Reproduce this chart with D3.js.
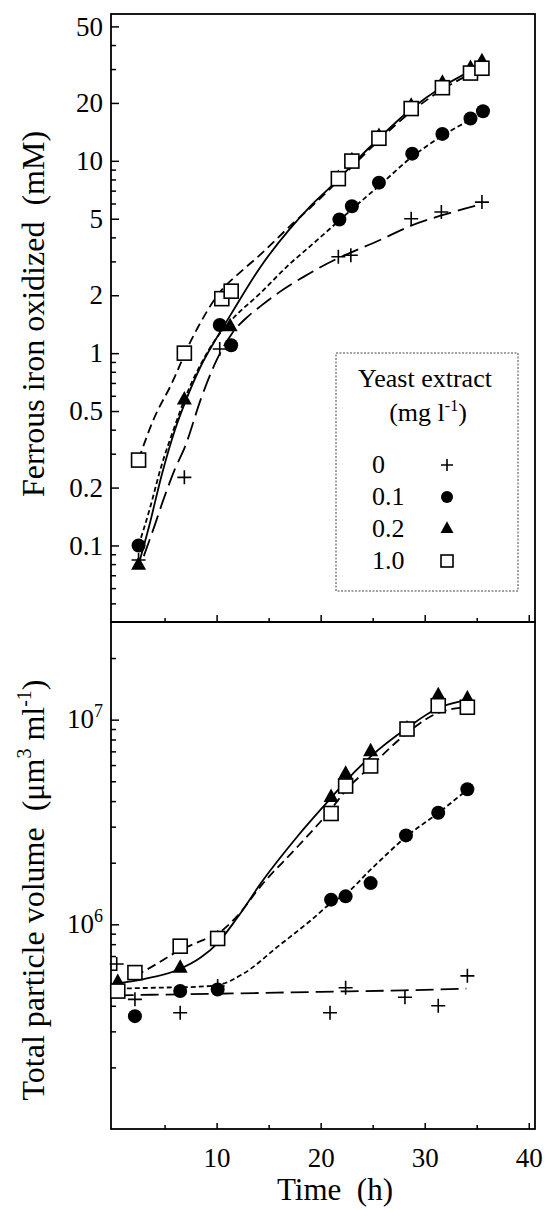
<!DOCTYPE html>
<html>
<head>
<meta charset="utf-8">
<script src="https://cdn.jsdelivr.net/npm/d3@7"></script>
<style>
body { margin: 0; background: #fff; }
text { font-family: "Liberation Serif", "Times New Roman", serif; fill: #000; }
</style>
</head>
<body>
<script>
// ---- data: ferrous iron oxidized (mM), by yeast extract level ----
var levels = ['0', '0.1', '0.2', '1.0'];

var feT_0 = [2.5, 6.9, 10.3, 21.7, 22.9, 28.7, 31.6, 35.5];
var feV_0 = [0.084, 0.226, 1.05, 3.17, 3.23, 5.0, 5.42, 6.1];
var feT_01 = [2.5, 10.3, 11.4, 21.8, 23.0, 25.6, 28.8, 31.7, 34.4, 35.6];
var feV_01 = [0.10, 1.4, 1.1, 4.95, 5.8, 7.7, 10.9, 13.8, 16.6, 18.1];
var feT_02 = [2.5, 6.9, 11.3, 21.7, 23.0, 25.6, 28.7, 31.7, 34.4, 35.5];
var feV_02 = [0.079, 0.57, 1.37, 8.1, 10.0, 13.4, 19.2, 25.3, 30.2, 32.7];
var feT_10 = [2.5, 6.9, 10.5, 11.4, 21.7, 23.0, 25.6, 28.7, 31.7, 34.4, 35.5];
var feV_10 = [0.278, 1.0, 1.92, 2.1, 8.08, 9.97, 13.1, 18.7, 24.0, 28.6, 30.3];

// fitted curves
var fitFeT_0 = [3.0, 4.0, 5.0, 6.0, 7.0, 8.5, 10.0, 11.5, 13.0, 14.2, 16.0, 18.4, 21.7, 23.0, 25.6, 28.7, 31.6, 35.5];
var fitFeV_0 = [0.088, 0.125, 0.18, 0.25, 0.33, 0.58, 0.92, 1.27, 1.55, 1.75, 2.07, 2.5, 3.12, 3.35, 3.85, 4.6, 5.2, 5.95];
var fitFeT_01 = [2.5, 3.5, 4.7, 6.0, 7.0, 8.5, 10.0, 11.4, 14.2, 17.0, 19.0, 21.7, 23.0, 25.6, 28.7, 31.7, 34.4, 35.6];
var fitFeV_01 = [0.10, 0.15, 0.26, 0.42, 0.59, 0.88, 1.2, 1.48, 2.05, 2.9, 3.6, 4.85, 5.6, 7.4, 10.4, 13.5, 16.4, 17.9];
var fitFeT_02 = [2.6, 3.5, 4.7, 6.0, 7.0, 8.5, 10.0, 11.4, 14.2, 17.0, 19.0, 21.7, 23.0, 25.6, 28.7, 31.7, 34.4, 35.5];
var fitFeV_02 = [0.083, 0.125, 0.23, 0.40, 0.56, 0.86, 1.2, 1.6, 2.8, 4.4, 5.8, 8.0, 9.5, 13.1, 18.6, 24.3, 29.3, 31.4];
var fitFeT_10 = [2.5, 4.0, 5.6, 7.5, 10.4, 12.5, 14.2, 17.0, 19.0, 21.7, 23.0, 25.6, 28.7, 31.7, 34.4, 35.5];
var fitFeV_10 = [0.28, 0.46, 0.68, 1.15, 2.1, 2.7, 3.25, 4.55, 5.7, 7.9, 9.3, 12.8, 18.0, 23.5, 28.3, 30.3];

// ---- data: total particle volume (um3 ml-1) ----
var pvT_0 = [0.4, 2.15, 6.5, 10.1, 20.9, 22.4, 28.1, 31.3, 34.1];
var pvV_0 = [6.4e5, 4.3e5, 3.7e5, 5.0e5, 3.7e5, 4.9e5, 4.4e5, 4.0e5, 5.6e5];
var pvT_01 = [2.15, 6.5, 10.1, 21.0, 22.4, 24.8, 28.2, 31.3, 34.1];
var pvV_01 = [3.56e5, 4.72e5, 4.8e5, 1.32e6, 1.37e6, 1.59e6, 2.72e6, 3.51e6, 4.57e6];
var pvT_02 = [0.5, 6.5, 10.1, 21.0, 22.4, 24.8, 28.3, 31.3, 34.1];
var pvV_02 = [5.2e5, 6.1e5, 8.5e5, 4.16e6, 5.41e6, 6.97e6, 9.0e6, 1.31e7, 1.26e7];
var pvT_10 = [0.5, 2.15, 6.5, 10.1, 21.0, 22.4, 24.8, 28.3, 31.3, 34.1];
var pvV_10 = [4.72e5, 5.81e5, 7.82e5, 8.53e5, 3.48e6, 4.74e6, 5.94e6, 9.0e6, 1.17e7, 1.15e7];

var fitPvT_0 = [0.3, 10.0, 20.0, 28.0, 34.0];
var fitPvV_0 = [4.5e5, 4.58e5, 4.68e5, 4.76e5, 4.85e5];
var fitPvT_01 = [0.6, 4.0, 8.0, 10.1, 12.6, 15.9, 19.1, 21.0, 22.5, 24.8, 28.3, 31.3, 34.1];
var fitPvV_01 = [4.85e5, 4.9e5, 4.95e5, 5.05e5, 5.75e5, 7.8e5, 1.05e6, 1.27e6, 1.42e6, 1.85e6, 2.7e6, 3.5e6, 4.55e6];
var fitPvT_02 = [0.5, 3.0, 6.3, 8.5, 10.1, 12.0, 14.3, 17.8, 21.0, 22.4, 24.8, 28.3, 31.3, 34.1];
var fitPvV_02 = [5.15e5, 5.4e5, 6.0e5, 6.9e5, 8.1e5, 1.08e6, 1.6e6, 2.7e6, 4.15e6, 5.0e6, 6.6e6, 9.1e6, 1.14e7, 1.25e7];
var fitPvT_10 = [2.2, 4.0, 6.3, 8.5, 10.1, 12.0, 14.3, 17.8, 21.0, 22.4, 24.8, 28.3, 31.3, 34.1];
var fitPvV_10 = [5.6e5, 6.3e5, 7.4e5, 8.3e5, 9.0e5, 1.1e6, 1.55e6, 2.4e6, 3.65e6, 4.5e6, 5.9e6, 8.6e6, 1.08e7, 1.15e7];

// ---- ticks ----
var xMajor = [10, 20, 30, 40];
var xMinor = [5, 15, 25, 35];
var feMajor = [0.1, 0.2, 0.5, 1, 2, 5, 10, 20, 50];
var feMinor = [0.05, 0.06, 0.07, 0.08, 0.09, 0.3, 0.4, 0.6, 0.7, 0.8, 0.9, 3, 4, 6, 7, 8, 9, 30, 40];
var pvMajor = [1e6, 1e7];
var pvMinor = [2e5, 3e5, 4e5, 5e5, 6e5, 7e5, 8e5, 9e5, 2e6, 3e6, 4e6, 5e6, 6e6, 7e6, 8e6, 9e6, 2e7];

var width = 549;
var height = 1210;
var svg = d3.select('body').append('svg')
            .attr('width', width)
            .attr('height', height);

var left = 111, right = 535, top1 = 14, mid = 622, bottom = 1129;

var x = d3.scaleLinear().domain([-0.15, 40.6]).range([left, right]);
var yTop = d3.scaleLog().domain([0.04, 58]).range([mid, top1]);
var yBot = d3.scaleLog().domain([1e5, 3e7]).range([bottom, mid]);

var dashes = { '0': '18,7', '0.1': '5,3', '0.2': null, '1.0': '9,5' };

function styleAxis(g) {
  g.select('.domain').remove();
  g.selectAll('.tick line').attr('stroke', '#000').attr('stroke-width', 1.5);
  g.selectAll('text').attr('font-family', '"Liberation Serif", serif')
   .attr('font-size', 27).attr('fill', '#000');
}

// ---- axes: top panel ----
svg.append('g').attr('transform', 'translate(' + left + ',0)')
   .call(d3.axisLeft(yTop).tickValues(feMajor).tickFormat(function (d) { return String(d); })
         .tickSize(-8).tickPadding(8))
   .call(styleAxis);
svg.append('g').attr('transform', 'translate(' + left + ',0)')
   .call(d3.axisLeft(yTop).tickValues(feMinor).tickFormat('').tickSize(-5))
   .call(styleAxis);
svg.append('g').attr('transform', 'translate(0,' + mid + ')')
   .call(d3.axisBottom(x).tickValues(xMajor).tickFormat('').tickSize(-7))
   .call(styleAxis);
svg.append('g').attr('transform', 'translate(0,' + mid + ')')
   .call(d3.axisBottom(x).tickValues(xMinor).tickFormat('').tickSize(-4))
   .call(styleAxis);

// ---- axes: bottom panel ----
var pvAxis = svg.append('g').attr('transform', 'translate(' + left + ',0)')
   .call(d3.axisLeft(yBot).tickValues(pvMajor).tickFormat('').tickSize(-8).tickPadding(8))
   .call(styleAxis);
pvAxis.selectAll('.tick').each(function (d) {
  var t = d3.select(this).select('text').attr('dy', null).attr('y', 8);
  t.append('tspan').text('10');
  t.append('tspan').attr('font-size', 18).attr('dy', -11).text(Math.round(Math.log10(d)));
});
svg.append('g').attr('transform', 'translate(' + left + ',0)')
   .call(d3.axisLeft(yBot).tickValues(pvMinor).tickFormat('').tickSize(-5))
   .call(styleAxis);
svg.append('g').attr('transform', 'translate(0,' + bottom + ')')
   .call(d3.axisBottom(x).tickValues(xMajor).tickSize(-6).tickPadding(19))
   .call(styleAxis);
svg.append('g').attr('transform', 'translate(0,' + bottom + ')')
   .call(d3.axisBottom(x).tickValues(xMinor).tickFormat('').tickSize(-4))
   .call(styleAxis);

// frames
[[top1, mid], [mid, bottom]].forEach(function (p) {
  svg.append('rect').attr('x', left).attr('y', p[0])
     .attr('width', right - left).attr('height', p[1] - p[0])
     .attr('fill', 'none').attr('stroke', '#000').attr('stroke-width', 1.8);
});

// ---- curves ----
function drawFit(y, ts, vs, key) {
  var line = d3.line()
               .x(function (d) { return x(d[0]); })
               .y(function (d) { return y(d[1]); })
               .curve(d3.curveMonotoneX);
  svg.append('path').datum(d3.zip(ts, vs))
     .attr('d', line)
     .attr('fill', 'none')
     .attr('stroke', '#000')
     .attr('stroke-width', 1.8)
     .attr('stroke-dasharray', dashes[key]);
}
drawFit(yTop, fitFeT_0, fitFeV_0, '0');
drawFit(yTop, fitFeT_01, fitFeV_01, '0.1');
drawFit(yTop, fitFeT_02, fitFeV_02, '0.2');
drawFit(yTop, fitFeT_10, fitFeV_10, '1.0');
drawFit(yBot, fitPvT_0, fitPvV_0, '0');
drawFit(yBot, fitPvT_01, fitPvV_01, '0.1');
drawFit(yBot, fitPvT_02, fitPvV_02, '0.2');
drawFit(yBot, fitPvT_10, fitPvV_10, '1.0');

// ---- markers ----
function marker(g, key, s) {
  if (key === '0') {
    g.append('path').attr('d', 'M' + (-s) + ',0H' + s + 'M0,' + (-s) + 'V' + s)
     .attr('stroke', '#000').attr('stroke-width', 1.6).attr('fill', 'none');
  } else if (key === '0.1') {
    g.append('circle').attr('r', s).attr('fill', '#000');
  } else if (key === '0.2') {
    var h = s * 1.8;
    g.append('path')
     .attr('d', 'M0,' + (-h * 2 / 3) + 'L' + s + ',' + (h / 3) + 'L' + (-s) + ',' + (h / 3) + 'Z')
     .attr('fill', '#000');
  } else {
    g.append('rect').attr('x', -s).attr('y', -s).attr('width', 2 * s).attr('height', 2 * s)
     .attr('fill', '#fff').attr('stroke', '#000').attr('stroke-width', 1.6);
  }
}
function drawPoints(y, ts, vs, key, s) {
  svg.append('g').selectAll('g')
     .data(d3.zip(ts, vs))
     .enter()
     .append('g')
     .attr('transform', function (d) { return 'translate(' + x(d[0]) + ',' + y(d[1]) + ')'; })
     .each(function () { marker(d3.select(this), key, s); });
}
drawPoints(yTop, feT_0, feV_0, '0', 7);
drawPoints(yTop, feT_01, feV_01, '0.1', 7);
drawPoints(yTop, feT_02, feV_02, '0.2', 7.5);
drawPoints(yTop, feT_10, feV_10, '1.0', 7);
drawPoints(yBot, pvT_0, pvV_0, '0', 7);
drawPoints(yBot, pvT_01, pvV_01, '0.1', 7);
drawPoints(yBot, pvT_02, pvV_02, '0.2', 7.5);
drawPoints(yBot, pvT_10, pvV_10, '1.0', 7);

// ---- axis titles ----
svg.append('text')
   .attr('transform', 'translate(44,314) rotate(-90)')
   .attr('text-anchor', 'middle')
   .attr('font-size', 32)
   .style('white-space', 'pre')
   .text('Ferrous iron oxidized  (mM)');

var pvTitle = svg.append('text')
   .attr('transform', 'translate(44,890) rotate(-90)')
   .attr('text-anchor', 'middle')
   .attr('font-size', 32)
   .style('white-space', 'pre');
pvTitle.append('tspan').text('Total particle volume  (\u03bcm');
pvTitle.append('tspan').attr('font-size', 20).attr('dy', -13).text('3');
pvTitle.append('tspan').attr('dy', 13).text(' ml');
pvTitle.append('tspan').attr('font-size', 20).attr('dy', -13).text('-1');
pvTitle.append('tspan').attr('dy', 13).text(')');

svg.append('text')
   .attr('x', 335).attr('y', 1200)
   .attr('text-anchor', 'middle')
   .attr('font-size', 31)
   .style('white-space', 'pre')
   .text('Time  (h)');

// ---- legend ----
var legend = svg.append('g');
legend.append('rect')
      .attr('x', 336).attr('y', 353).attr('width', 182).attr('height', 238)
      .attr('fill', '#fff').attr('stroke', '#444').attr('stroke-width', 1)
      .attr('stroke-dasharray', '2,1.5');
legend.append('text').attr('x', 425).attr('y', 387).attr('text-anchor', 'middle')
      .attr('font-size', 26).text('Yeast extract');
var unit = legend.append('text').attr('x', 428).attr('y', 421).attr('text-anchor', 'middle')
      .attr('font-size', 26);
unit.append('tspan').text('(mg l');
unit.append('tspan').attr('font-size', 16).attr('dy', -10).text('-1');
unit.append('tspan').attr('dy', 10).text(')');

var rows = legend.selectAll('.row')
      .data(levels)
      .enter()
      .append('g')
      .attr('class', 'row')
      .attr('transform', function (d, i) { return 'translate(0,' + (473 + i * 32) + ')'; });
rows.append('text').attr('x', 372).attr('font-size', 26).text(function (d) { return d; });
rows.append('g').attr('transform', 'translate(447,-8)')
    .each(function (d) { marker(d3.select(this), d, d === '0.2' ? 6.5 : 6); });
</script>
</body>
</html>
